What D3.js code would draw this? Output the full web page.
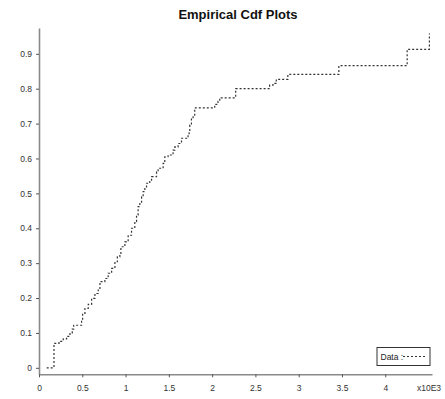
<!DOCTYPE html>
<html>
<head>
<meta charset="utf-8">
<script src="https://cdn.jsdelivr.net/npm/d3@7"></script>
<style>
  body { margin: 0; background: #fff; }
  svg { display: block; font-family: "Liberation Sans", Arial, sans-serif; }
</style>
</head>
<body>
<svg id="plot" width="445" height="399"></svg>
<script>
// Step positions of the empirical cdf (raw units, shown as x10E3) and the level reached at each step
const stepX = [89, 173, 231, 280, 319, 358, 384, 401, 492, 504, 531, 569, 608, 646, 684, 704, 761, 799, 839, 877,
    905, 934, 946, 992, 1030, 1069, 1107, 1127, 1145, 1165, 1185, 1203, 1223, 1242, 1280, 1300, 1358, 1376, 1434,
    1453, 1491, 1549, 1569, 1607, 1646, 1722, 1734, 1742, 1761, 1780, 1799, 2030, 2068, 2088, 2272, 2664, 2703,
    2741, 2875, 3464, 4253, 4510];
const stepY = [0, 0.070, 0.076, 0.083, 0.090, 0.100, 0.111, 0.122, 0.137, 0.156, 0.170, 0.182, 0.199, 0.213, 0.223,
    0.247, 0.256, 0.271, 0.285, 0.304, 0.318, 0.328, 0.347, 0.361, 0.380, 0.400, 0.419, 0.438, 0.462, 0.471, 0.490,
    0.505, 0.514, 0.529, 0.538, 0.548, 0.562, 0.572, 0.586, 0.605, 0.610, 0.624, 0.633, 0.643, 0.658, 0.667, 0.677,
    0.696, 0.715, 0.724, 0.745, 0.755, 0.764, 0.774, 0.800, 0.810, 0.815, 0.827, 0.841, 0.866, 0.913, 0.958];

const xTicks = [0, 500, 1000, 1500, 2000, 2500, 3000, 3500, 4000];
const yTicks = [0, 0.1, 0.2, 0.3, 0.4, 0.5, 0.6, 0.7, 0.8, 0.9];
const titleText = "Empirical Cdf Plots";
const legendLabel = "Data :";

const svg = d3.select("#plot");

// Plot area in pixels
const plotLeft = 39, plotRight = 432, plotTop = 28, plotBottom = 374.3;

const x = d3.scaleLinear().domain([0, 4540]).range([plotLeft, plotRight]);
const y = d3.scaleLinear().domain([-0.0186, 0.974]).range([plotBottom, plotTop]);

// Title
svg.append("text")
    .attr("x", 238)
    .attr("y", 18.5)
    .attr("text-anchor", "middle")
    .attr("font-size", "13px")
    .attr("font-weight", "bold")
    .attr("fill", "#111")
    .text(titleText);

// Y axis
const yAxis = svg.append("g")
    .attr("transform", "translate(" + plotLeft + ",0)")
    .call(d3.axisLeft(y).tickValues(yTicks).tickSizeInner(3).tickSizeOuter(0).tickPadding(4)
        .tickFormat(d => d === 0 ? "0" : d3.format(".1f")(d)));

// X axis
const xAxis = svg.append("g")
    .attr("transform", "translate(0," + plotBottom + ")")
    .call(d3.axisBottom(x).tickValues(xTicks).tickSizeInner(3).tickSizeOuter(0).tickPadding(7.5)
        .tickFormat(d => d3.format("~g")(d / 1000)));

[yAxis, xAxis].forEach(function (g) {
    g.select(".domain").attr("stroke", "#8a8a8a").attr("stroke-width", 1.6);
    g.selectAll(".tick line").attr("stroke", "#555");
    g.selectAll(".tick text").attr("font-size", "8.5px").attr("fill", "#333");
});

// Exponent label at the end of the x axis
svg.append("text")
    .attr("x", 429)
    .attr("y", 391)
    .attr("text-anchor", "middle")
    .attr("font-size", "8.5px")
    .attr("fill", "#333")
    .text("x10E3");

// Step line of the cdf
const line = d3.line()
    .x(d => x(d[0]))
    .y(d => y(d[1]))
    .curve(d3.curveStepAfter);

svg.append("path")
    .datum(stepX.map((v, i) => [v, stepY[i]]))
    .attr("d", line)
    .attr("fill", "none")
    .attr("stroke", "#333")
    .attr("stroke-width", 1.2)
    .attr("stroke-dasharray", "2,2");

// Legend
const legend = svg.append("g").attr("transform", "translate(377,347.5)");
legend.append("rect")
    .attr("width", 53)
    .attr("height", 18)
    .attr("fill", "#fff")
    .attr("stroke", "#333")
    .attr("stroke-width", 1);
legend.append("text")
    .attr("x", 3.5)
    .attr("y", 12)
    .attr("font-size", "8.5px")
    .attr("fill", "#222")
    .text(legendLabel);
legend.append("line")
    .attr("x1", 26)
    .attr("x2", 50)
    .attr("y1", 9)
    .attr("y2", 9)
    .attr("stroke", "#333")
    .attr("stroke-width", 1.2)
    .attr("stroke-dasharray", "2,2");
</script>
</body>
</html>
